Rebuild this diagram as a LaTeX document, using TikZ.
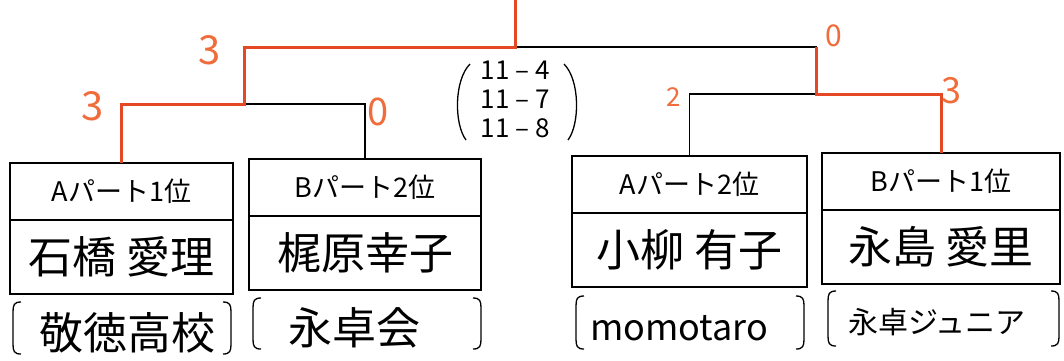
\documentclass[tikz,border=0pt]{standalone}
\usepackage{fontspec}
\setmainfont{Noto Sans CJK JP}
\usetikzlibrary{positioning}
\definecolor{wincol}{RGB}{228,72,36}
\definecolor{scorecol}{RGB}{240,108,58}
\tikzset{every picture/.style={line width=1.3pt}}

\begin{document}
\begin{tikzpicture}[x=1pt,y=1pt,yscale=-1,xscale=1,
	rank/.style={draw, line width=1.3, minimum height=57, inner sep=0, outer sep=0, anchor=north west, font=\fontsize{27}{30}\selectfont},
	player/.style={draw, line width=1.3, minimum height=74, inner sep=0, outer sep=0, font=\fontsize{44}{48}\selectfont},
	club/.style={inner sep=0, font=\fontsize{44}{48}\selectfont},
	score/.style={inner sep=0, text=scorecol, font=\fontsize{40}{44}\selectfont},
	game/.style={inner sep=0, minimum height=27.5, font=\fontsize{26}{28}\selectfont},
	line/.style={line width=1.3},
	win/.style={draw=wincol, line width=3},
	paren/.style={line width=1.3}]
	\useasboundingbox (0,0) rectangle (1064,360);

	% Entry boxes
	\node[rank, minimum width=223] (r1) at (10,163) {Aパート1位};
	\node[player, minimum width=223, below=0pt of r1] (p1) {石橋 愛理};
	\node[rank, minimum width=232] (r2) at (249,159) {Bパート2位};
	\node[player, minimum width=232, below=0pt of r2] (p2) {梶原幸子};
	\node[rank, minimum width=235] (r3) at (572,156) {Aパート2位};
	\node[player, minimum width=235, below=0pt of r3] (p3) {小柳 有子};
	\node[rank, minimum width=238] (r4) at (822,153) {Bパート1位};
	\node[player, minimum width=238, below=0pt of r4] (p4) {永島 愛里};

	% Clubs
	\node[club] (c1) at (127,333) {敬徳高校};
	\node[club] (c2) at (354,328) {永卓会};
	\node[club, font=\fontsize{36}{40}\selectfont] (c3) at (679,328) {momotaro};
	\node[club, font=\fontsize{30}{34}\selectfont] (c4) at (937,322) {永卓ジュニア};
	\foreach \l/\r/\t/\b in {12/232/302/354, 252/482/298/349, 575/805/296/349, 827/1060/291/346}
	{
		\draw[paren] (\l+9,\t) .. controls (\l+2,\t) and (\l+1,\t+3) .. (\l+1,\t+10) -- (\l+1,\b-10) .. controls (\l+1,\b-3) and (\l+2,\b) .. (\l+9,\b);
		\draw[paren] (\r-9,\t) .. controls (\r-2,\t) and (\r-1,\t+3) .. (\r-1,\t+10) -- (\r-1,\b-10) .. controls (\r-1,\b-3) and (\r-2,\b) .. (\r-9,\b);
	}

	% Bracket
	\coordinate (q1) at (244,104);
	\coordinate (q2) at (816,94);
	\coordinate (fin) at (515,47);
	\coordinate (crown) at (515,0);
	\draw[line] (r1.north) |- (q1) -| (r2.north);
	\draw[line] (r3.north) |- (q2) -| (r4.north);
	\draw[line] (q1) |- (fin) -| (q2);
	\draw[line] (fin) -- (crown);
	% Winners
	\draw[win] (r1.north) |- (q1) |- (fin) -- (crown);
	\draw[win] (r4.north) |- (q2) -- (q2 |- fin);

	% Scores
	\node[score] (s1) at (93,106) {3};
	\node[score, font=\fontsize{38}{42}\selectfont] (s2) at (378,112) {0};
	\node[score] (s3) at (210,50) {3};
	\node[score, font=\fontsize{26}{30}\selectfont] (s4) at (674,97) {2};
	\node[score, font=\fontsize{36}{40}\selectfont] (s5) at (951,91) {3};
	\node[score, font=\fontsize{30}{34}\selectfont] (s6) at (834,36) {0};
	\node[game] (g2) at (515,99) {11 – 7};
	\node[game, above=0pt of g2] (g1) {11 – 4};
	\node[game, below=0pt of g2] (g3) {11 – 8};
	\draw[paren] (470,64) .. controls (454,80) and (454,124) .. (466,140);
	\draw[paren] (564,64) .. controls (580,80) and (580,124) .. (568,140);

\end{tikzpicture}
\end{document}
